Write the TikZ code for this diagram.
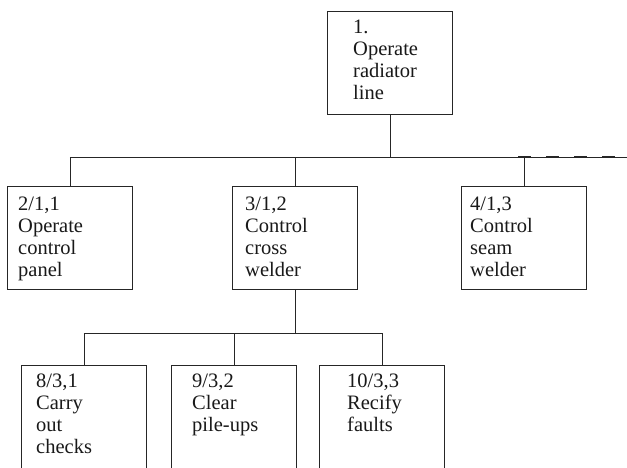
\documentclass[tikz,border=0pt]{standalone}
\usepackage{fontspec}
\setmainfont{Liberation Serif}
\begin{document}
\begin{tikzpicture}[x=1pt,y=-1pt,
  box/.style={draw=black!85, line width=0.9pt, anchor=north west, minimum width=125pt, inner sep=0pt},
  conn/.style={draw=black!85, line width=0.9pt},
  txt/.style={anchor=base west, align=left, inner sep=0pt, font=\fontsize{20.5}{22}\selectfont, text=black!90},
]
\clip (0,0) rectangle (627,467);
% boxes
\node[box, minimum height=103pt] (n1) at (327,11) {};
\node[box, minimum height=103pt] (n2) at (7,186) {};
\node[box, minimum height=103pt] (n3) at (232,186) {};
\node[box, minimum height=103pt] (n4) at (461,186) {};
\node[box, minimum height=130pt] (n8) at (21,365) {};
\node[box, minimum height=130pt] (n9) at (171,365) {};
\node[box, minimum height=130pt] (n10) at (319,365) {};
% texts (anchor is baseline of last line)
\node[txt] (t1) at (353,99) {1.\\Operate\\radiator\\line};
\node[txt] (t2) at (18,276) {2/1,1\\Operate\\control\\panel};
\node[txt] (t3) at (245,276) {3/1,2\\Control\\cross\\welder};
\node[txt] (t4) at (470,276) {4/1,3\\Control\\seam\\welder};
\node[txt] (t8) at (36,453) {8/3,1\\Carry\\out\\checks};
\node[txt] (t9) at (192,431) {9/3,2\\Clear\\pile-ups};
\node[txt] (t10) at (347,431) {10/3,3\\Recify\\faults};
% bus coordinates
\coordinate (busL) at (n2.north |- 0,157);
\coordinate (busR) at (627,157);
\coordinate (dashS) at (518,157);
\coordinate (bus2L) at (n8.north |- 0,333);
\coordinate (bus2R) at (n10.north |- 0,333);
% connectors
\draw[conn] (n1.south) -- (n1.south |- busL);
\draw[conn] (busL) -- (busR);
\draw[conn, line width=2pt, dash pattern=on 13pt off 15pt] (dashS) -- (busR);
\draw[conn] (n2.north) -- (busL);
\draw[conn] (n3.north) -- (n3.north |- busL);
\draw[conn] (n4.north) -- (n4.north |- busL);
\draw[conn] (n3.south) -- (n3.south |- bus2L);
\draw[conn] (bus2L) -- (bus2R);
\draw[conn] (n8.north) -- (bus2L);
\draw[conn] (n9.north) -- (n9.north |- bus2L);
\draw[conn] (n10.north) -- (bus2R);
\end{tikzpicture}
\end{document}
